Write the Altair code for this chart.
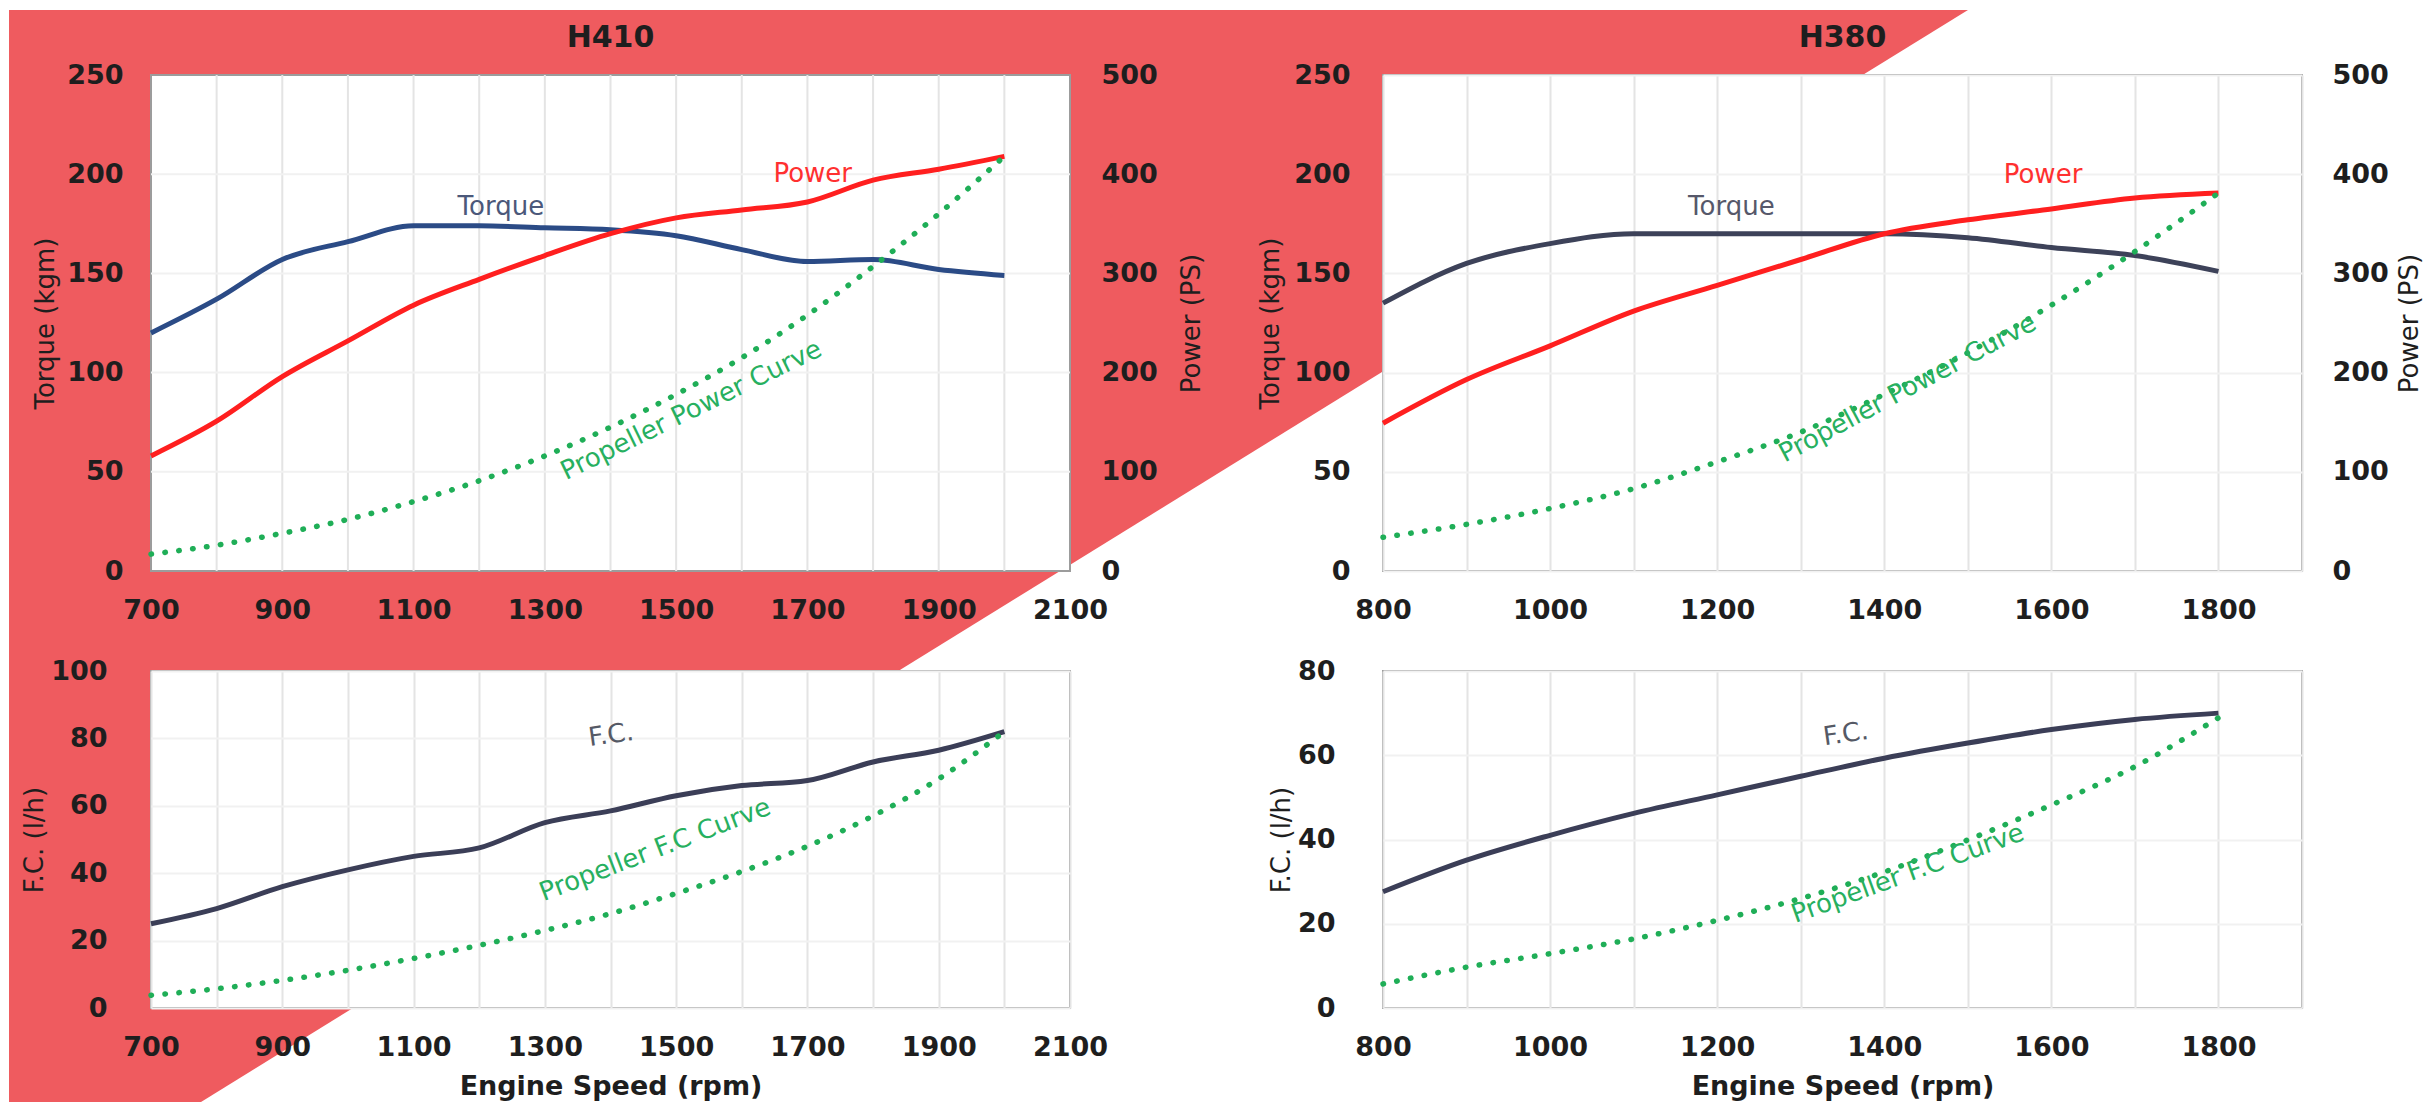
import altair as alt
import pandas as pd

# ---------------- data ----------------
rpm_h410 = [700, 800, 900, 1000, 1100, 1200, 1300, 1400, 1500, 1600, 1700, 1800, 1900, 2000]
torque_h410 = [120, 137, 157, 166, 174, 174, 173, 172, 169, 162, 156, 157, 152, 149]
power_h410 = [116, 151, 196, 232, 268, 294, 318, 340, 356, 364, 372, 394, 405, 418]
prop_power_h410 = [17, 26, 38, 52, 70, 91, 116, 145, 178, 215, 258, 307, 360, 418]
fc_h410 = [25, 29.5, 36, 41, 45, 47.5, 55, 58.5, 63, 66, 67.5, 73, 76.5, 82]
prop_fc_h410 = [3.8, 5.7, 8.2, 11.2, 14.7, 18.6, 23, 28, 34, 40.5, 48, 57, 68, 82]

rpm_h380 = [800, 900, 1000, 1100, 1200, 1300, 1400, 1500, 1600, 1700, 1800]
torque_h380 = [135, 155, 165, 170, 170, 170, 170, 168, 163, 159, 151]
power_h380 = [149, 193, 227, 262, 288, 314, 340, 354, 365, 376, 381]
prop_power_h380 = [34, 47, 63, 83, 110, 140, 178, 220, 268, 322, 381]
fc_h380 = [27.6, 35.1, 41, 46.2, 50.6, 55, 59.3, 62.9, 66.1, 68.5, 70]
prop_fc_h380 = [5.7, 9.7, 12.9, 16.4, 20.8, 26, 32.3, 39.9, 48.2, 57.3, 68.9]

# axis ranges / ticks
dom_rpm_h410 = [700, 2100]
dom_rpm_h380 = [800, 1900]
dom_torque = [0, 250]
dom_power = [0, 500]
dom_fc_h410 = [0, 100]
dom_fc_h380 = [0, 80]
x_labels_h410 = [700, 900, 1100, 1300, 1500, 1700, 1900, 2100]
x_grid_h410 = [800, 900, 1000, 1100, 1200, 1300, 1400, 1500, 1600, 1700, 1800, 1900, 2000]
x_ticks_h410_all = [700, 800, 900, 1000, 1100, 1200, 1300, 1400, 1500, 1600, 1700, 1800, 1900, 2000, 2100]
x_ticks_h380_all = [800, 900, 1000, 1100, 1200, 1300, 1400, 1500, 1600, 1700, 1800, 1900]
torque_ticks = [0, 50, 100, 150, 200, 250]
torque_grid = [50, 100, 150, 200]
power_ticks = [0, 100, 200, 300, 400, 500]
fc_ticks_h410 = [0, 20, 40, 60, 80, 100]
fc_ticks_h380 = [0, 20, 40, 60, 80]

# panel titles
titles = ["H410", "H380"]

# decorative red diagonal band, in H410 (rpm, kgm) units
bg_rpm = [483.7, 776.2, 3468.0]
bg_low = [-267.6, -267.6, 282.8]
bg_high = [282.8, 282.8, 282.8]

# in-plot annotations
tl_left_text = ["Torque"]; tl_left_x = [1233]; tl_left_y = [183.5]
tl_right_text = ["Power", "Propeller Power Curve"]; tl_right_x = [1708, 1523]; tl_right_y = [400, 162]
tr_left_text = ["Torque"]; tr_left_x = [1217]; tr_left_y = [183.6]
tr_right_text = ["Power", "Propeller Power Curve"]; tr_right_x = [1590, 1428]; tr_right_y = [399, 184]
bl_text = ["F.C.", "Propeller F.C Curve"]; bl_x = [1401, 1468]; bl_y = [81, 46.9]
br_text = ["F.C.", "Propeller F.C Curve"]; br_x = [1354, 1428]; br_y = [65, 31.9]

# ---------------- styling ----------------
FONT = "DejaVu Sans"
RED_BG = "#EF5B5F"
RED = "#ff1f1f"
GREEN = "#1fae57"
NAVY = "#2b4b86"
SLATE = "#3d4259"
INK = "#1e1e1e"
LBL = 26


def text_layer(texts, xs, ys, colors, angles, xdom, ydom, xaxis, yaxis):
    df = pd.DataFrame({"t": texts, "x": xs, "y": ys, "c": colors, "a": angles})
    return alt.Chart(df).mark_text(font=FONT, fontSize=LBL, align="center", baseline="middle").encode(
        x=alt.X("x:Q", scale=alt.Scale(domain=xdom), axis=xaxis),
        y=alt.Y("y:Q", scale=alt.Scale(domain=ydom), axis=yaxis),
        text="t:N",
        color=alt.Color("c:N", scale=None),
        angle=alt.Angle("a:Q", scale=None),
    )


def title_layer(text, xdom, ydom, xaxis, yaxis):
    df = pd.DataFrame({"t": [text], "x": [sum(xdom) / 2], "y": [ydom[1]]})
    return alt.Chart(df).mark_text(font=FONT, fontSize=30, fontWeight="bold", color=INK,
                                   align="center", baseline="alphabetic", dy=-28).encode(
        x=alt.X("x:Q", scale=alt.Scale(domain=xdom), axis=xaxis),
        y=alt.Y("y:Q", scale=alt.Scale(domain=ydom), axis=yaxis),
        text="t:N",
    )


def line_layer(xs, ys, color, xdom, ydom, xaxis, yaxis, dotted=False):
    df = pd.DataFrame({"x": xs, "y": ys})
    if dotted:
        mk = alt.Chart(df).mark_line(color=color, strokeWidth=5.5, strokeDash=[0.5, 13.5],
                                     strokeCap="round", interpolate="monotone")
    else:
        mk = alt.Chart(df).mark_line(color=color, strokeWidth=5, interpolate="monotone")
    return mk.encode(
        x=alt.X("x:Q", scale=alt.Scale(domain=xdom), axis=xaxis),
        y=alt.Y("y:Q", scale=alt.Scale(domain=ydom), axis=yaxis),
    )


# ---------------- H410 top (with the background band) ----------------
tl_x_axis = alt.Axis(values=x_labels_h410, title=None, grid=False, zindex=1, labelPadding=26,
                     labelFlush=False, labelOverlap=False, format="d")
tl_y_axis = alt.Axis(orient="left", values=torque_ticks, title="Torque (kgm)", grid=False, zindex=1,
                     labelPadding=28, titlePadding=8)
tl_p_axis = alt.Axis(orient="right", values=power_ticks, title="Power (PS)", grid=False, zindex=1,
                     labelPadding=31, titlePadding=21, titleAngle=270, titleBaseline="top")

bg_df = pd.DataFrame({"x": bg_rpm, "lo": bg_low, "hi": bg_high})
bg = alt.Chart(bg_df).mark_area(color=RED_BG, opacity=1).encode(
    x=alt.X("x:Q", scale=alt.Scale(domain=dom_rpm_h410), axis=tl_x_axis),
    y=alt.Y("lo:Q", scale=alt.Scale(domain=dom_torque), axis=tl_y_axis),
    y2="hi:Q",
)
box_df = pd.DataFrame({"x": [dom_rpm_h410[0]], "x2": [dom_rpm_h410[1]],
                       "y": [dom_torque[0]], "y2": [dom_torque[1]]})
box = alt.Chart(box_df).mark_rect(fill="white", stroke="#9c9c9c", strokeWidth=2).encode(
    x=alt.X("x:Q", scale=alt.Scale(domain=dom_rpm_h410), axis=tl_x_axis), x2="x2:Q",
    y=alt.Y("y:Q", scale=alt.Scale(domain=dom_torque), axis=tl_y_axis), y2="y2:Q",
)
vgrid = alt.Chart(pd.DataFrame({"g": x_grid_h410})).mark_rule(color="#e4e4e4", strokeWidth=2).encode(
    x=alt.X("g:Q", scale=alt.Scale(domain=dom_rpm_h410), axis=tl_x_axis))
hgrid = alt.Chart(pd.DataFrame({"g": torque_grid})).mark_rule(color="#f1f1f1", strokeWidth=2).encode(
    y=alt.Y("g:Q", scale=alt.Scale(domain=dom_torque), axis=tl_y_axis))

tl_left = alt.layer(
    bg, box, vgrid, hgrid,
    line_layer(rpm_h410, torque_h410, NAVY, dom_rpm_h410, dom_torque, tl_x_axis, tl_y_axis),
    text_layer(tl_left_text, tl_left_x, tl_left_y, ["#4b587a"], [0], dom_rpm_h410, dom_torque, tl_x_axis, tl_y_axis),
    title_layer(titles[0], dom_rpm_h410, dom_torque, tl_x_axis, tl_y_axis),
)
tl_right = alt.layer(
    line_layer(rpm_h410, power_h410, RED, dom_rpm_h410, dom_power, tl_x_axis, tl_p_axis),
    line_layer(rpm_h410, prop_power_h410, GREEN, dom_rpm_h410, dom_power, tl_x_axis, tl_p_axis, dotted=True),
    text_layer(tl_right_text, tl_right_x, tl_right_y, ["#ff3030", "#27b060"], [0, 334],
               dom_rpm_h410, dom_power, tl_x_axis, tl_p_axis),
)
tl = alt.layer(tl_left, tl_right).resolve_scale(y="independent").properties(width=919, height=496)

# ---------------- H380 top ----------------
tr_x_axis = alt.Axis(values=x_ticks_h380_all, title=None, grid=True, labelPadding=26, labelFlush=False,
                     labelOverlap=False, format="d",
                     labelExpr="datum.value % 200 == 0 && datum.value < 1900 ? datum.label : ''")
tr_y_axis = alt.Axis(orient="left", values=torque_ticks, title="Torque (kgm)", grid=True, gridColor="#f1f1f1",
                     labelPadding=33, titlePadding=10)
tr_p_axis = alt.Axis(orient="right", values=power_ticks, title="Power (PS)", grid=False,
                     labelPadding=30, titlePadding=8, titleAngle=270, titleBaseline="top")
tr_left = alt.layer(
    line_layer(rpm_h380, torque_h380, SLATE, dom_rpm_h380, dom_torque, tr_x_axis, tr_y_axis),
    text_layer(tr_left_text, tr_left_x, tr_left_y, ["#56586a"], [0], dom_rpm_h380, dom_torque, tr_x_axis, tr_y_axis),
    title_layer(titles[1], dom_rpm_h380, dom_torque, tr_x_axis, tr_y_axis),
)
tr_right = alt.layer(
    line_layer(rpm_h380, power_h380, RED, dom_rpm_h380, dom_power, tr_x_axis, tr_p_axis),
    line_layer(rpm_h380, prop_power_h380, GREEN, dom_rpm_h380, dom_power, tr_x_axis, tr_p_axis, dotted=True),
    text_layer(tr_right_text, tr_right_x, tr_right_y, ["#ff3030", "#27b060"], [0, 332],
               dom_rpm_h380, dom_power, tr_x_axis, tr_p_axis),
)
tr = alt.layer(tr_left, tr_right).resolve_scale(y="independent").properties(width=919, height=496)

# ---------------- fuel consumption ----------------
bl_x_axis = alt.Axis(values=x_ticks_h410_all, title="Engine Speed (rpm)", grid=True, labelPadding=26,
                     labelFlush=False, labelOverlap=False, format="d", titlePadding=13, titleFontSize=27,
                     titleFontWeight="bold",
                     labelExpr="datum.value % 200 == 100 ? datum.label : ''")
bl_y_axis = alt.Axis(orient="left", values=fc_ticks_h410, title="F.C. (l/h)", grid=True, gridColor="#f1f1f1",
                     labelPadding=44, titlePadding=3)
bl = alt.layer(
    line_layer(rpm_h410, fc_h410, "#3b3e57", dom_rpm_h410, dom_fc_h410, bl_x_axis, bl_y_axis),
    line_layer(rpm_h410, prop_fc_h410, GREEN, dom_rpm_h410, dom_fc_h410, bl_x_axis, bl_y_axis, dotted=True),
    text_layer(bl_text, bl_x, bl_y, ["#555965", "#27b060"], [352, 339], dom_rpm_h410, dom_fc_h410,
               bl_x_axis, bl_y_axis),
).properties(width=919, height=337)

br_x_axis = alt.Axis(values=x_ticks_h380_all, title="Engine Speed (rpm)", grid=True, labelPadding=26,
                     labelFlush=False, labelOverlap=False, format="d", titlePadding=13, titleFontSize=27,
                     titleFontWeight="bold",
                     labelExpr="datum.value % 200 == 0 && datum.value < 1900 ? datum.label : ''")
br_y_axis = alt.Axis(orient="left", values=fc_ticks_h380, title="F.C. (l/h)", grid=True, gridColor="#f1f1f1",
                     labelPadding=48, titlePadding=3)
br = alt.layer(
    line_layer(rpm_h380, fc_h380, "#3b3e57", dom_rpm_h380, dom_fc_h380, br_x_axis, br_y_axis),
    line_layer(rpm_h380, prop_fc_h380, GREEN, dom_rpm_h380, dom_fc_h380, br_x_axis, br_y_axis, dotted=True),
    text_layer(br_text, br_x, br_y, ["#555965", "#27b060"], [352, 340], dom_rpm_h380, dom_fc_h380,
               br_x_axis, br_y_axis),
).properties(width=919, height=337)

chart = alt.concat(tl, tr, bl, br, columns=2, bounds="flush",
                   spacing={"row": 100, "column": 313}).properties(padding=0)

chart = chart.configure(background="white").configure_view(
    fill="white", stroke="#9c9c9c", strokeWidth=2
).configure_axis(
    labelFont=FONT, labelFontSize=27, labelFontWeight="bold", labelColor=INK,
    titleFont=FONT, titleFontSize=26, titleFontWeight="normal", titleColor=INK,
    domain=False, ticks=False, gridColor="#e4e4e4", gridWidth=2,
)

chart.save("out.html", embed_options={"renderer": "svg", "actions": False})
